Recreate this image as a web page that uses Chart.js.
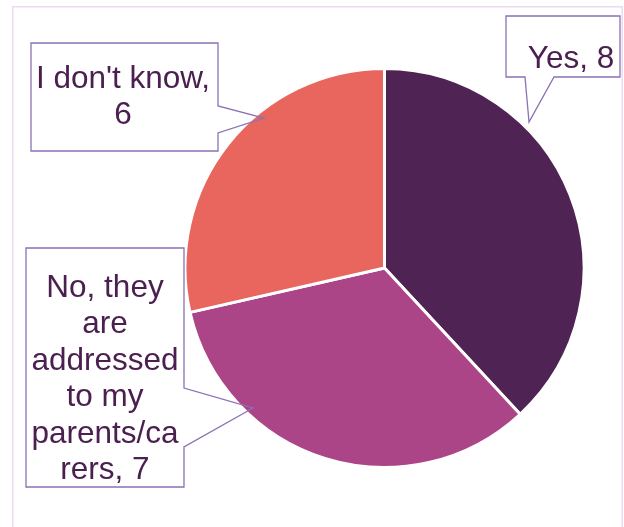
<!DOCTYPE html>
<html>
<head>
<meta charset="utf-8">
<script src="https://cdn.jsdelivr.net/npm/chart.js@4.4.1/dist/chart.umd.min.js"></script>
<style>
  html, body { margin: 0; padding: 0; background: #ffffff; }
  #pie-canvas { display: block; }
</style>
</head>
<body>
<canvas id="pie-canvas" width="624" height="527"></canvas>
<script>
  // Answers and counts
  let categories = ["Yes", "No, they are addressed to my parents/carers", "I don't know"];
  let counts = [8, 7, 6];
  let slice_colors = ["#4F2354", "#AC4587", "#E9665E"];

  let text_color = "#4B2050";
  let callout_color = "#8A72B4";
  let font_size = 31.5;
  let line_height = 36.4;

  // Callout boxes: box rect, pointer base on the box edge, tip, text anchor
  let callouts = [
    { // Yes
      box: [506, 16, 620, 77], side: "bottom", base: [525, 554], tip: [529, 122],
      textX: 571, textY: 68, maxWidth: 108
    },
    { // No
      box: [26, 248, 184, 487], side: "right", base: [388, 447], tip: [253, 408],
      textX: 105, textY: 297, maxWidth: 152
    },
    { // I don't know
      box: [31, 43, 218, 151], side: "right", base: [106, 133], tip: [264, 118],
      textX: 123, textY: 88, maxWidth: 182
    }
  ];

  // word wrap, breaking long words by characters
  let wrap_text = function(ctx, text, max_width) {
    let words = text.split(" ");
    let lines = [];
    let current = "";
    for (let w of words) {
      let trial = current ? current + " " + w : w;
      if (ctx.measureText(trial).width <= max_width) {
        current = trial;
        continue;
      }
      if (current) lines.push(current);
      current = "";
      let chunk = "";
      for (let ch of w) {
        if (ctx.measureText(chunk + ch).width > max_width && chunk) {
          lines.push(chunk);
          chunk = ch;
        } else {
          chunk += ch;
        }
      }
      current = chunk;
    }
    if (current) lines.push(current);
    return lines;
  };

  let frame_plugin = {
    id: "frame",
    beforeDraw(chart) {
      let ctx = chart.ctx;
      ctx.save();
      ctx.strokeStyle = "#ECDAF2";
      ctx.lineWidth = 1.5;
      ctx.strokeRect(12.75, 6.75, 609.5, 600);
      ctx.restore();
    }
  };

  let callout_plugin = {
    id: "callouts",
    afterDraw(chart) {
      let ctx = chart.ctx;
      ctx.save();
      ctx.font = font_size + "px 'Liberation Sans', Arial, sans-serif";
      callouts.forEach(function(c, i) {
        let [x0, y0, x1, y1] = c.box;
        ctx.fillStyle = "#ffffff";
        ctx.fillRect(x0, y0, x1 - x0, y1 - y0);

        ctx.beginPath();
        ctx.moveTo(x0, y0);
        ctx.lineTo(x1, y0);
        if (c.side === "right") {
          ctx.lineTo(x1, c.base[0]);
          ctx.lineTo(c.tip[0], c.tip[1]);
          ctx.lineTo(x1, c.base[1]);
          ctx.lineTo(x1, y1);
          ctx.lineTo(x0, y1);
        } else {
          ctx.lineTo(x1, y1);
          ctx.lineTo(c.base[1], y1);
          ctx.lineTo(c.tip[0], c.tip[1]);
          ctx.lineTo(c.base[0], y1);
          ctx.lineTo(x0, y1);
        }
        ctx.closePath();
        ctx.strokeStyle = callout_color;
        ctx.lineWidth = 1.3;
        ctx.stroke();

        let label = categories[i] + ", " + counts[i];
        let lines = wrap_text(ctx, label, c.maxWidth);
        ctx.fillStyle = text_color;
        ctx.textAlign = "center";
        ctx.textBaseline = "alphabetic";
        lines.forEach(function(line, k) {
          ctx.fillText(line, c.textX, c.textY + k * line_height);
        });
      });
      ctx.restore();
    }
  };

  let pie_ctx = document.getElementById("pie-canvas").getContext("2d");
  let pie_chart = new Chart(pie_ctx, {
    type: "pie",
    data: {
      labels: categories,
      datasets: [{
        data: counts,
        backgroundColor: slice_colors,
        borderColor: "#ffffff",
        borderWidth: 3
      }]
    },
    options: {
      responsive: false,
      animation: false,
      layout: {
        padding: { left: 183.5, right: 38.5, top: 67, bottom: 58 }
      },
      plugins: {
        legend: { display: false },
        tooltip: { enabled: false }
      }
    },
    plugins: [frame_plugin, callout_plugin]
  });
</script>
</body>
</html>
